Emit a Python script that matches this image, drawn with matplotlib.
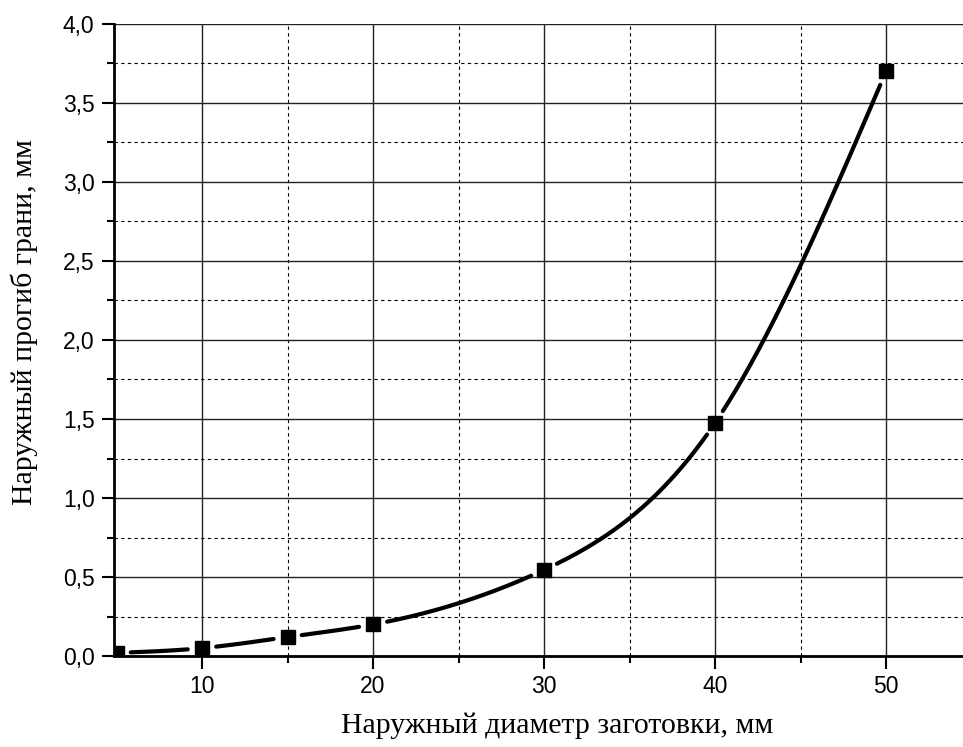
import matplotlib
matplotlib.use("Agg")
import matplotlib.pyplot as plt
import numpy as np
from matplotlib.ticker import MultipleLocator, FixedLocator, FuncFormatter

# measured points: outer diameter (mm) vs outer face deflection (mm)
diam = [5, 10, 15, 20, 30, 40, 50]
deflection = [0.02, 0.05, 0.12, 0.20, 0.545, 1.475, 3.70]

x_label = "Наружный диаметр заготовки, мм"
y_label = "Наружный прогиб грани, мм"


def natural_spline(xs, ys, xf):
    xs = np.asarray(xs, float)
    ys = np.asarray(ys, float)
    n = len(xs)
    h = np.diff(xs)
    A = np.zeros((n, n))
    b = np.zeros(n)
    A[0, 0] = A[-1, -1] = 1.0
    for i in range(1, n - 1):
        A[i, i - 1] = h[i - 1]
        A[i, i] = 2 * (h[i - 1] + h[i])
        A[i, i + 1] = h[i]
        b[i] = 6 * ((ys[i + 1] - ys[i]) / h[i] - (ys[i] - ys[i - 1]) / h[i - 1])
    m = np.linalg.solve(A, b)
    out = np.empty_like(xf)
    for k, x in enumerate(xf):
        i = min(max(np.searchsorted(xs, x) - 1, 0), n - 2)
        t0, t1 = xs[i], xs[i + 1]
        hi = h[i]
        out[k] = (m[i] * (t1 - x) ** 3 / (6 * hi) + m[i + 1] * (x - t0) ** 3 / (6 * hi)
                  + (ys[i] / hi - m[i] * hi / 6) * (t1 - x)
                  + (ys[i + 1] / hi - m[i + 1] * hi / 6) * (x - t0))
    return out


plt.rcParams["font.family"] = "Liberation Sans"

fig = plt.figure(figsize=(9.63, 7.47), dpi=100)
ax = fig.add_axes([0.1184, 0.1218, 0.8816, 0.8461])
ax.set_xlim(4.854, 54.5)
ax.set_ylim(0, 4.0)

ax.xaxis.set_major_locator(MultipleLocator(10))
ax.xaxis.set_minor_locator(FixedLocator([15, 25, 35, 45]))
ax.yaxis.set_major_locator(MultipleLocator(0.5))
ax.yaxis.set_minor_locator(MultipleLocator(0.25))
ax.yaxis.set_major_formatter(FuncFormatter(lambda v, p: f"{v:.1f}".replace(".", ",")))
ax.xaxis.set_major_formatter(FuncFormatter(lambda v, p: f"{v:.0f}"))

ax.grid(which="major", color="#222222", lw=1.0, ls="-")
ax.grid(which="minor", color="black", lw=0.8, ls=(0, (3, 3)))
ax.set_axisbelow(True)

for s in ("top", "right"):
    ax.spines[s].set_visible(False)
for s in ("left", "bottom"):
    ax.spines[s].set_linewidth(2.0)
ax.tick_params(which="major", direction="out", length=9, width=1.5, labelsize=16.5,
               pad=5)
ax.tick_params(which="minor", direction="out", length=5, width=1.5)

# smooth curve, with small gaps around the markers (Origin-style)
xf = np.linspace(diam[0], diam[-1], 2000)
yf = natural_spline(diam, deflection, xf)
pts = ax.transData.transform(np.column_stack([xf, yf]))
mk = ax.transData.transform(np.column_stack([diam, deflection]))
d = np.min(np.hypot(pts[:, None, 0] - mk[None, :, 0], pts[:, None, 1] - mk[None, :, 1]), axis=1)
yf_gap = np.where(d > 14, yf, np.nan)
ax.plot(xf, yf_gap, color="black", lw=3.0, solid_capstyle="round", zorder=3)
ax.plot(diam, deflection, ls="none", marker="s", ms=10, color="black", zorder=4)

ax.set_xlabel(x_label, fontfamily="Liberation Serif", fontsize=21.5)
ax.set_ylabel(y_label, fontfamily="Liberation Serif", fontsize=21.5)
ax.xaxis.set_label_coords(0.522, -0.090)
ax.yaxis.set_label_coords(-0.0895, 0.528)

fig.savefig("out.png", dpi=100)
